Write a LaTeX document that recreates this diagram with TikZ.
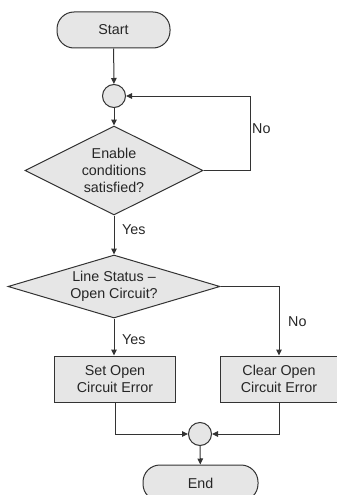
\documentclass[tikz,border=0pt]{standalone}
\usepackage{fontspec}
\setmainfont{Liberation Sans}
\usetikzlibrary{shapes.geometric,arrows.meta}
\definecolor{boxfill}{HTML}{E6E6E6}
\definecolor{linec}{HTML}{333333}
\begin{document}
\begin{tikzpicture}[x=1pt,y=-1pt,
  every node/.style={font=\fontsize{14.3}{16.7}\selectfont, text=black!85},
  base/.style={draw=linec, fill=boxfill, line width=1pt, inner sep=0pt, align=center},
  term/.style={base, rectangle, rounded corners=17pt, minimum width=113pt, minimum height=36pt},
  junc/.style={base, circle, minimum size=23pt},
  decis/.style={base, diamond},
  proc/.style={base, rectangle, minimum width=121pt, minimum height=46pt},
  lbl/.style={anchor=west, inner sep=0pt},
  conn/.style={draw=linec, line width=1pt, -{Triangle[width=5.5pt,length=6pt]}}
]
\useasboundingbox (0,0) rectangle (337,495);
\node[term] (start) at (113.5,30) {Start};
\node[junc] (c1) at (114,96) {};
\node[decis, aspect=2, minimum width=178pt, minimum height=89pt] (d1) at (114,170.5) {Enable\\conditions\\satisfied?};
\node[decis, aspect=3.37, minimum width=212pt, minimum height=63pt] (d2) at (114,286.5) {Line Status –\\Open Circuit?};
\node[proc] (set) at (115,379) {Set Open\\Circuit Error};
\node[proc, minimum width=118pt] (clr) at (279,379) {Clear Open\\Circuit Error};
\node[junc] (c2) at (200,434) {};
\node[term, minimum width=115pt] (end) at (200.5,483) {End};
\coordinate (loop) at (250,170.5);
\draw[conn] (start) -- (c1);
\draw[conn] (c1) -- (d1);
\draw[conn] (d1.east) -- (loop) |- (c1.east);
\draw[conn] (d1.south) -- (d2.north);
\draw[conn] (d2.south) -- (d2.south |- set.north);
\draw[conn] (d2.east) -| (clr.north);
\draw[conn] (set.south) |- (c2.west);
\draw[conn] (clr.south) |- (c2.east);
\draw[conn] (c2) -- (end);
\node[lbl] at (252,129) {No};
\node[lbl] at (122,230) {Yes};
\node[lbl] at (122,340) {Yes};
\node[lbl] at (288,322) {No};
\end{tikzpicture}
\end{document}
